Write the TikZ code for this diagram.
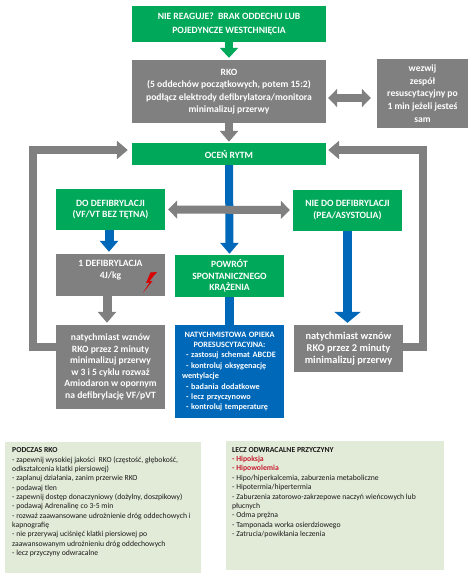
\documentclass[tikz,border=0pt]{standalone}
\usepackage{fontspec}
\setmainfont{Carlito}
\usetikzlibrary{arrows.meta}

\definecolor{boxgreen}{RGB}{0,168,89}
\definecolor{boxgray}{RGB}{128,128,128}
\definecolor{boxblue}{RGB}{0,104,185}
\definecolor{notegreen}{RGB}{226,235,216}
\definecolor{notered}{RGB}{200,30,50}

\tikzset{
  flowbox/.style={draw=none,text=white,font=\bfseries\fontsize{9.6}{11.6}\selectfont,align=center,inner sep=0pt,minimum width=109pt},
  greenbox/.style={flowbox,fill=boxgreen},
  graybox/.style={flowbox,fill=boxgray},
  bluebox/.style={flowbox,fill=boxblue},
  notebox/.style={fill=notegreen,inner sep=0pt},
  notetext/.style={anchor=north west,inner sep=0pt,align=left,text=black!90,font=\fontsize{7.7}{9.35}\selectfont},
  grayarrow/.style={draw=boxgray,line width=8pt,-{Triangle[length=11pt,width=18pt]}},
  grayboth/.style={draw=boxgray,line width=8pt,{Triangle[length=9pt,width=18pt]}-{Triangle[length=9pt,width=18pt]}},
  bluearrow/.style={draw=boxblue,line width=8pt,-{Triangle[length=11pt,width=18pt]}}
}

\begin{document}
\begin{tikzpicture}[x=1pt,y=-1pt]
      \useasboundingbox (0,0) rectangle (474,579);

      \node[greenbox,minimum width=194pt,minimum height=36pt,font=\bfseries\fontsize{9.6}{14}\selectfont] (start) at (229,24) {NIE REAGUJE?\ \ BRAK ODDECHU LUB\\POJEDYNCZE WESTCHNIĘCIA};
      \node[graybox,minimum width=194pt,minimum height=63pt,font=\bfseries\fontsize{9.6}{12.5}\selectfont] (rko) at (229,91.5) {RKO\\(5 oddechów początkowych, potem 15:2)\\podłącz elektrody defibrylatora/monitora\\minimalizuj przerwy};
      \node[graybox,minimum width=91pt,minimum height=69pt,font=\bfseries\fontsize{9.6}{12.6}\selectfont] (call) at (422.5,93.5) {wezwij\\zespół\\resuscytacyjny po\\1 min jeżeli jesteś\\sam};
      \node[greenbox,minimum width=194pt,minimum height=22pt] (rytm) at (229,154) {OCEŃ RYTM};

      \node[greenbox,minimum height=41pt] (shock) at (110.5,209.5) {DO DEFIBRYLACJI\\(VF/VT BEZ TĘTNA)};
      \node[greenbox,minimum height=41pt] (noshock) at (347.5,210) {NIE DO DEFIBRYLACJI\\(PEA/ASYSTOLIA)};
      \node[graybox,minimum height=42pt] (defib) at (110.5,275) {1 DEFIBRYLACJA\\4J/kg\\~};
      \node[greenbox,minimum height=42pt] (rosc) at (229.5,276) {POWRÓT\\SPONTANICZNEGO\\KRĄŻENIA};

      \node[graybox,minimum height=84pt] (resumel) at (110.5,367) {natychmiast wznów\\RKO przez 2 minuty\\minimalizuj przerwy\\w 3 i 5 cyklu rozważ\\Amiodaron w opornym\\na defibrylację VF/pVT};
      \node[bluebox,minimum height=93pt,minimum width=109pt,text width=95pt,align=left,font=\bfseries\fontsize{8.2}{10.4}\selectfont] (care) at (229.5,371.5) {{\centering NATYCHMISTOWA OPIEKA\\PORESUSCYTACYJNA:\par}\hspace*{4pt}- zastosuj schemat ABCDE\\\hspace*{4pt}- kontroluj oksygenację\\wentylacje\\\hspace*{4pt}- badania dodatkowe\\\hspace*{4pt}- lecz przyczynowo\\\hspace*{4pt}- kontroluj temperaturę};
      \node[graybox,minimum height=47pt,font=\bfseries\fontsize{10.4}{12.2}\selectfont] (resumer) at (348.5,348.5) {natychmiast wznów\\RKO przez 2 minuty\\minimalizuj przerwy};

      \coordinate (loopl) at (32.5,347);
      \coordinate (loopr) at (423,347);

      \draw[line width=8pt,draw=boxgreen,-{Triangle[length=10pt,width=18pt]}] (start) -- ([yshift=2pt]rko.north);
      \draw[grayarrow] (rko) -- ([yshift=1pt]rytm.north);
      \draw[grayboth] ([xshift=2pt,yshift=-6.5pt]rko.east) -- ([xshift=-6pt,yshift=-4.5pt]call.west);
      \draw[grayarrow,miter limit=10] (resumel.west |- loopl) -- (loopl) |- ([xshift=-4pt,yshift=4pt]rytm.west);
      \draw[grayarrow,miter limit=10] (resumer.east |- loopr) -- (loopr) |- ([xshift=2pt,yshift=4pt]rytm.east);

      \draw[bluearrow] (rytm) -- ([yshift=1pt]rosc.north);
      \draw[grayboth] ([xshift=3pt]shock.east) -- ([xshift=-3pt]noshock.west);
      \draw[bluearrow,line width=9pt] ([xshift=-1.5pt]shock.south) -- ([xshift=-1.5pt,yshift=2pt]defib.north);
      \draw[bluearrow,line width=9pt,-{Triangle[length=11pt,width=26pt]}] (noshock.south) -- ([xshift=-1pt,yshift=2pt]resumer.north);
      \draw[grayarrow,line width=9pt] ([xshift=-3.5pt]defib.south) -- ([xshift=-3.5pt,yshift=2pt]resumel.north);
      \draw[draw=boxblue,line width=9pt] (rosc.south) -- (care.north);

      \fill[red!85!black] (157,272) -- (150.5,272.5) -- (146,283) -- (149.5,282.5) -- (143,293) -- (152.5,281) -- (149.5,281) -- cycle;

      \node[notebox,minimum width=196pt,minimum height=131pt] (during) at (103,507.5) {};
      \node[notetext] (duringtext) at (12,447.5) {\textbf{PODCZAS RKO}\\- zapewnij wysokiej jakości\ \ RKO (częstość, głębokość,\\odkształcenia klatki piersiowej)\\- zaplanuj działania, zanim przerwie RKO\\- podawaj tlen\\- zapewnij dostęp donaczyniowy (dożylny, doszpikowy)\\- podawaj Adrenalinę co 3-5 min\\- rozważ zaawansowane udrożnienie dróg oddechowych i\\kapnografię\\- nie przerywaj uciśnięć klatki piersiowej po\\zaawansowanym udrożnieniu dróg oddechowych\\- lecz przyczyny odwracalne};

      \node[notebox,minimum width=218pt,minimum height=129pt] (causes) at (335,505.5) {};
      \node[notetext] (causestext) at (232,447) {\textbf{LECZ ODWRACALNE PRZYCZYNY}\\\textcolor{notered}{\textbf{- Hipoksja}}\\\textcolor{notered}{\textbf{- Hipowolemia}}\\- Hipo/hiperkalcemia, zaburzenia metaboliczne\\- Hipotermia/hipertermia\\- Zaburzenia zatorowo-zakrzepowe naczyń wieńcowych lub\\płucnych\\- Odma prężna\\- Tamponada worka osierdziowego\\- Zatrucia/powikłania leczenia};
\end{tikzpicture}
\end{document}
